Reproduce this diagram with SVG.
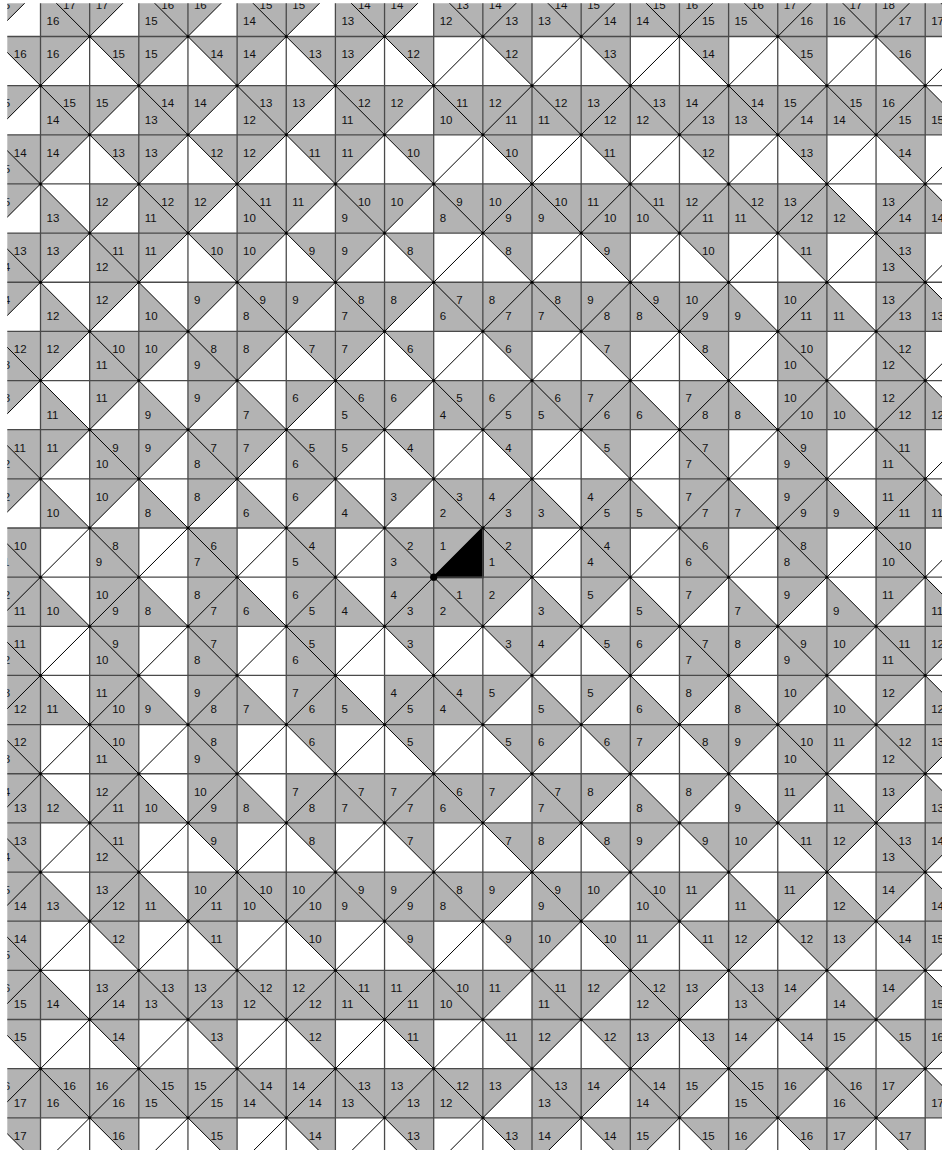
<svg xmlns="http://www.w3.org/2000/svg" width="942" height="1150" viewBox="0 0 942 1150">
<style>
.shade{fill:#b3b3b3}
.grid{fill:none;stroke:#4a4a4a;stroke-width:1.3;vector-effect:non-scaling-stroke}
.diag{fill:none;stroke:#000;stroke-width:1;vector-effect:non-scaling-stroke}
.lbl{font-family:"Liberation Sans",Arial,Helvetica,sans-serif;font-size:11.5px;fill:#111}
</style>
<defs>
<clipPath id="view"><rect x="7.3" y="3.3" width="940" height="1150"/></clipPath>
<pattern id="dots" patternUnits="userSpaceOnUse" x="15.925" y="11.925" width="98.3" height="98.3">
<circle cx="73.725" cy="24.575" r="1.5" fill="#000"/><circle cx="24.575" cy="73.725" r="1.5" fill="#000"/>
</pattern>
</defs>
<rect width="942" height="1150" fill="#fff"/>
<g clip-path="url(#view)">
<g id="tiles" transform="translate(40.5 36.5) scale(49.15)">
<path class="shade" d="M-1 -1h1l-1 1zM0 -1h1v1h-1zM1 -1h1l-1 1zM2 -1h1v1h-1zM3 -1h1l-1 1zM4 -1h1v1h-1zM5 -1h1l-1 1zM6 -1h1v1h-1zM7 -1h1l-1 1zM8 -1h11v1h-11z
M-1 0h1v1zM0 0h1l-1 1zM1 0h1v1zM2 0h1l-1 1zM3 0h1v1zM4 0h1l-1 1zM5 0h1v1zM6 0h1l-1 1zM7 0h1v1zM9 0h1v1zM11 0h1v1zM13 0h1v1zM15 0h1v1zM17 0h1v1z
M-1 1h1l-1 1zM0 1h1v1h-1zM1 1h1l-1 1zM2 1h1v1h-1zM3 1h1l-1 1zM4 1h1v1h-1zM5 1h1l-1 1zM6 1h1v1h-1zM7 1h1l-1 1zM8 1h10v1h-10zM18 1v1h1z
M-1 2h1v1h-1zM0 2h1l-1 1zM1 2h1v1zM2 2h1l-1 1zM3 2h1v1zM4 2h1l-1 1zM5 2h1v1zM6 2h1l-1 1zM7 2h1v1zM9 2h1v1zM11 2h1v1zM13 2h1v1zM15 2h1v1zM17 2h1v1z
M-1 3h1l-1 1zM0 3v1h1zM1 3h1l-1 1zM2 3h1v1h-1zM3 3h1l-1 1zM4 3h1v1h-1zM5 3h1l-1 1zM6 3h1v1h-1zM7 3h1l-1 1zM8 3h8v1h-8zM16 3v1h1zM17 3h1v1h-1zM18 3v1h1z
M-1 4h1v1h-1zM0 4h1l-1 1zM1 4h1v1h-1zM2 4h1l-1 1zM3 4h1v1zM4 4h1l-1 1zM5 4h1v1zM6 4h1l-1 1zM7 4h1v1zM9 4h1v1zM11 4h1v1zM13 4h1v1zM15 4h1v1zM17 4h1v1h-1z
M-1 5h1l-1 1zM0 5v1h1zM1 5h1l-1 1zM2 5v1h1zM3 5h1l-1 1zM4 5h1v1h-1zM5 5h1l-1 1zM6 5h1v1h-1zM7 5h1l-1 1zM8 5h6v1h-6zM14 5v1h1zM15 5h1v1h-1zM16 5v1h1zM17 5h1v1h-1zM18 5v1h1z
M-1 6h1v1h-1zM0 6h1l-1 1zM1 6h1v1h-1zM2 6h1l-1 1zM3 6h1v1h-1zM4 6h1l-1 1zM5 6h1v1zM6 6h1l-1 1zM7 6h1v1zM9 6h1v1zM11 6h1v1zM13 6h1v1zM15 6h1v1h-1zM17 6h1v1h-1z
M-1 7h1l-1 1zM0 7v1h1zM1 7h1l-1 1zM2 7v1h1zM3 7h1l-1 1zM4 7v1h1zM5 7h1l-1 1zM6 7h1v1h-1zM7 7h1l-1 1zM8 7h4v1h-4zM12 7v1h1zM13 7h1v1h-1zM14 7v1h1zM15 7h1v1h-1zM16 7v1h1zM17 7h1v1h-1zM18 7v1h1z
M-1 8h1v1h-1zM0 8h1l-1 1zM1 8h1v1h-1zM2 8h1l-1 1zM3 8h1v1h-1zM4 8h1l-1 1zM5 8h1v1h-1zM6 8h1l-1 1zM7 8h1v1zM9 8h1v1zM11 8h1v1zM13 8h1v1h-1zM15 8h1v1h-1zM17 8h1v1h-1z
M-1 9h1l-1 1zM0 9v1h1zM1 9h1l-1 1zM2 9v1h1zM3 9h1l-1 1zM4 9v1h1zM5 9h1l-1 1zM6 9v1h1zM7 9h1l-1 1zM8 9h2v1h-2zM10 9v1h1zM11 9h1v1h-1zM12 9v1h1zM13 9h1v1h-1zM14 9v1h1zM15 9h1v1h-1zM16 9v1h1zM17 9h1v1h-1zM18 9v1h1z
M-1 10h1v1h-1zM1 10h1v1h-1zM3 10h1v1h-1zM5 10h1v1h-1zM7 10h1v1h-1zM8 10h1l-1 1zM9 10h1v1h-1zM11 10h1v1h-1zM13 10h1v1h-1zM15 10h1v1h-1zM17 10h1v1h-1z
M-1 11h1v1h-1zM0 11v1h1zM1 11h1v1h-1zM2 11v1h1zM3 11h1v1h-1zM4 11v1h1zM5 11h1v1h-1zM6 11v1h1zM7 11h2v1h-2zM9 11h1l-1 1zM10 11v1h1zM11 11h1l-1 1zM12 11v1h1zM13 11h1l-1 1zM14 11v1h1zM15 11h1l-1 1zM16 11v1h1zM17 11h1l-1 1zM18 11v1h1z
M-1 12h1v1h-1zM1 12h1v1h-1zM3 12h1v1h-1zM5 12h1v1h-1zM7 12h1v1zM9 12h1v1zM10 12h1l-1 1zM11 12h1v1zM12 12h1l-1 1zM13 12h1v1h-1zM14 12h1l-1 1zM15 12h1v1h-1zM16 12h1l-1 1zM17 12h1v1h-1zM18 12h1l-1 1z
M-1 13h1v1h-1zM0 13v1h1zM1 13h1v1h-1zM2 13v1h1zM3 13h1v1h-1zM4 13v1h1zM5 13h1v1h-1zM6 13v1h1zM7 13h2v1h-2zM9 13h1l-1 1zM10 13v1h1zM11 13h1l-1 1zM12 13v1h1zM13 13h1l-1 1zM14 13v1h1zM15 13h1l-1 1zM16 13v1h1zM17 13h1l-1 1zM18 13v1h1z
M-1 14h1v1h-1zM1 14h1v1h-1zM3 14h1v1h-1zM5 14h1v1zM7 14h1v1zM9 14h1v1zM10 14h1l-1 1zM11 14h1v1zM12 14h1l-1 1zM13 14h1v1zM14 14h1l-1 1zM15 14h1v1h-1zM16 14h1l-1 1zM17 14h1v1h-1zM18 14h1l-1 1z
M-1 15h1v1h-1zM0 15v1h1zM1 15h1v1h-1zM2 15v1h1zM3 15h1v1h-1zM4 15v1h1zM5 15h4v1h-4zM9 15h1l-1 1zM10 15h1v1h-1zM11 15h1l-1 1zM12 15v1h1zM13 15h1l-1 1zM14 15v1h1zM15 15h1l-1 1zM16 15v1h1zM17 15h1l-1 1zM18 15v1h1z
M-1 16h1v1h-1zM1 16h1v1h-1zM3 16h1v1zM5 16h1v1zM7 16h1v1zM9 16h1v1zM10 16h1l-1 1zM11 16h1v1zM12 16h1l-1 1zM13 16h1v1zM14 16h1l-1 1zM15 16h1v1zM16 16h1l-1 1zM17 16h1v1h-1zM18 16h1l-1 1z
M-1 17h1v1h-1zM0 17v1h1zM1 17h1v1h-1zM2 17v1h1zM3 17h6v1h-6zM9 17h1l-1 1zM10 17h1v1h-1zM11 17h1l-1 1zM12 17h1v1h-1zM13 17h1l-1 1zM14 17v1h1zM15 17h1l-1 1zM16 17v1h1zM17 17h1l-1 1zM18 17v1h1z
M-1 18h1v1h-1zM1 18h1v1zM3 18h1v1zM5 18h1v1zM7 18h1v1zM9 18h1v1zM10 18h1l-1 1zM11 18h1v1zM12 18h1l-1 1zM13 18h1v1zM14 18h1l-1 1zM15 18h1v1zM16 18h1l-1 1zM17 18h1v1zM18 18h1l-1 1z
M-1 19h1v1h-1zM0 19v1h1zM1 19h8v1h-8zM9 19h1l-1 1zM10 19h1v1h-1zM11 19h1l-1 1zM12 19h1v1h-1zM13 19h1l-1 1zM14 19h1v1h-1zM15 19h1l-1 1zM16 19v1h1zM17 19h1l-1 1zM18 19v1h1z
M-1 20h1v1zM1 20h1v1zM3 20h1v1zM5 20h1v1zM7 20h1v1zM9 20h1v1zM10 20h1l-1 1zM11 20h1v1zM12 20h1l-1 1zM13 20h1v1zM14 20h1l-1 1zM15 20h1v1zM16 20h1l-1 1zM17 20h1v1zM18 20h1l-1 1z
M-1 21h10v1h-10zM9 21h1l-1 1zM10 21h1v1h-1zM11 21h1l-1 1zM12 21h1v1h-1zM13 21h1l-1 1zM14 21h1v1h-1zM15 21h1l-1 1zM16 21h1v1h-1zM17 21h1l-1 1zM18 21v1h1z
M-1 22h1v1zM1 22h1v1zM3 22h1v1zM5 22h1v1zM7 22h1v1zM9 22h1v1zM10 22h1l-1 1zM11 22h1v1zM12 22h1l-1 1zM13 22h1v1zM14 22h1l-1 1zM15 22h1v1zM16 22h1l-1 1zM17 22h1v1z"/>
<path id="start" d="M9 10v1h-1z" fill="#000" stroke="#000" stroke-width="2" style="vector-effect:non-scaling-stroke"/>
<path id="gridlines" class="grid" d="M-1 -1V24M0 -1V24M1 -1V24M2 -1V24M3 -1V24M4 -1V24M5 -1V24M6 -1V24M7 -1V24M8 -1V24M9 -1V24M10 -1V24M11 -1V24M12 -1V24M13 -1V24M14 -1V24M15 -1V24M16 -1V24M17 -1V24M18 -1V24M19 -1V24
M-1 -1H20M-1 0H20M-1 1H20M-1 2H20M-1 3H20M-1 4H20M-1 5H20M-1 6H20M-1 7H20M-1 8H20M-1 9H20M-1 10H20M-1 11H20M-1 12H20M-1 13H20M-1 14H20M-1 15H20M-1 16H20M-1 17H20M-1 18H20M-1 19H20M-1 20H20M-1 21H20M-1 22H20M-1 23H20"/>
<path id="diagonals" class="diag" d="M1 -2L-2 1M3 -2L-2 3M5 -2L-2 5M7 -2L-2 7M9 -2L-2 9M11 -2L-2 11M13 -2L-2 13M15 -2L-2 15M17 -2L-2 17M19 -2L-2 19M21 -2L-2 21M23 -2L-2 23M25 -2L-2 25M27 -2L-2 27M29 -2L-2 29M31 -2L-2 31M33 -2L-2 33M35 -2L-2 35M37 -2L-2 37M39 -2L-2 39M41 -2L-2 41M43 -2L-2 43
M-25 -2L3 26M-23 -2L5 26M-21 -2L7 26M-19 -2L9 26M-17 -2L11 26M-15 -2L13 26M-13 -2L15 26M-11 -2L17 26M-9 -2L19 26M-7 -2L21 26M-5 -2L23 26M-3 -2L25 26M-1 -2L27 26M1 -2L29 26M3 -2L31 26M5 -2L33 26M7 -2L35 26M9 -2L37 26M11 -2L39 26M13 -2L41 26M15 -2L43 26M17 -2L45 26"/>
</g>
<rect id="vertex-dots" x="0" y="0" width="942" height="1150" fill="url(#dots)"/>
<circle id="start-dot" cx="433.7" cy="577.15" r="3.6" fill="#000"/>
<g id="labels" class="lbl">
<text y="9.15"><tspan x="-2.65">16</tspan><tspan x="63">17</tspan><tspan x="95.65">17</tspan><tspan x="161.3">16</tspan><tspan x="193.95">16</tspan><tspan x="259.6">15</tspan><tspan x="292.25">15</tspan><tspan x="357.9">14</tspan><tspan x="390.55">14</tspan><tspan x="456.2">13</tspan><tspan x="488.85">14</tspan><tspan x="554.5">14</tspan><tspan x="587.15">15</tspan><tspan x="652.8">15</tspan><tspan x="685.45">16</tspan><tspan x="751.1">16</tspan><tspan x="783.75">17</tspan><tspan x="849.4">17</tspan><tspan x="882.05">18</tspan></text>
<text y="25.35"><tspan x="46.5">16</tspan><tspan x="144.8">15</tspan><tspan x="243.1">14</tspan><tspan x="341.4">13</tspan><tspan x="439.7">12</tspan><tspan x="505.35">13</tspan><tspan x="538">13</tspan><tspan x="603.65">14</tspan><tspan x="636.3">14</tspan><tspan x="701.95">15</tspan><tspan x="734.6">15</tspan><tspan x="800.25">16</tspan><tspan x="832.9">16</tspan><tspan x="898.55">17</tspan><tspan x="931.2">17</tspan></text>
<text y="58.3"><tspan x="13.85">16</tspan><tspan x="46.5">16</tspan><tspan x="112.15">15</tspan><tspan x="144.8">15</tspan><tspan x="210.45">14</tspan><tspan x="243.1">14</tspan><tspan x="308.75">13</tspan><tspan x="341.4">13</tspan><tspan x="407.05">12</tspan><tspan x="505.35">12</tspan><tspan x="603.65">13</tspan><tspan x="701.95">14</tspan><tspan x="800.25">15</tspan><tspan x="898.55">16</tspan></text>
<text y="107.45"><tspan x="-2.65">15</tspan><tspan x="63">15</tspan><tspan x="95.65">15</tspan><tspan x="161.3">14</tspan><tspan x="193.95">14</tspan><tspan x="259.6">13</tspan><tspan x="292.25">13</tspan><tspan x="357.9">12</tspan><tspan x="390.55">12</tspan><tspan x="456.2">11</tspan><tspan x="488.85">12</tspan><tspan x="554.5">12</tspan><tspan x="587.15">13</tspan><tspan x="652.8">13</tspan><tspan x="685.45">14</tspan><tspan x="751.1">14</tspan><tspan x="783.75">15</tspan><tspan x="849.4">15</tspan><tspan x="882.05">16</tspan></text>
<text y="123.65"><tspan x="46.5">14</tspan><tspan x="144.8">13</tspan><tspan x="243.1">12</tspan><tspan x="341.4">11</tspan><tspan x="439.7">10</tspan><tspan x="505.35">11</tspan><tspan x="538">11</tspan><tspan x="603.65">12</tspan><tspan x="636.3">12</tspan><tspan x="701.95">13</tspan><tspan x="734.6">13</tspan><tspan x="800.25">14</tspan><tspan x="832.9">14</tspan><tspan x="898.55">15</tspan><tspan x="931.2">15</tspan></text>
<text y="156.6"><tspan x="13.85">14</tspan><tspan x="46.5">14</tspan><tspan x="112.15">13</tspan><tspan x="144.8">13</tspan><tspan x="210.45">12</tspan><tspan x="243.1">12</tspan><tspan x="308.75">11</tspan><tspan x="341.4">11</tspan><tspan x="407.05">10</tspan><tspan x="505.35">10</tspan><tspan x="603.65">11</tspan><tspan x="701.95">12</tspan><tspan x="800.25">13</tspan><tspan x="898.55">14</tspan></text>
<text y="172.8"><tspan x="-2.65">15</tspan></text>
<text y="205.75"><tspan x="-2.65">15</tspan><tspan x="95.65">12</tspan><tspan x="161.3">12</tspan><tspan x="193.95">12</tspan><tspan x="259.6">11</tspan><tspan x="292.25">11</tspan><tspan x="357.9">10</tspan><tspan x="390.55">10</tspan><tspan x="456.2">9</tspan><tspan x="488.85">10</tspan><tspan x="554.5">10</tspan><tspan x="587.15">11</tspan><tspan x="652.8">11</tspan><tspan x="685.45">12</tspan><tspan x="751.1">12</tspan><tspan x="783.75">13</tspan><tspan x="882.05">13</tspan></text>
<text y="221.95"><tspan x="46.5">13</tspan><tspan x="144.8">11</tspan><tspan x="243.1">10</tspan><tspan x="341.4">9</tspan><tspan x="439.7">8</tspan><tspan x="505.35">9</tspan><tspan x="538">9</tspan><tspan x="603.65">10</tspan><tspan x="636.3">10</tspan><tspan x="701.95">11</tspan><tspan x="734.6">11</tspan><tspan x="800.25">12</tspan><tspan x="832.9">12</tspan><tspan x="898.55">14</tspan><tspan x="931.2">14</tspan></text>
<text y="254.9"><tspan x="13.85">13</tspan><tspan x="46.5">13</tspan><tspan x="112.15">11</tspan><tspan x="144.8">11</tspan><tspan x="210.45">10</tspan><tspan x="243.1">10</tspan><tspan x="308.75">9</tspan><tspan x="341.4">9</tspan><tspan x="407.05">8</tspan><tspan x="505.35">8</tspan><tspan x="603.65">9</tspan><tspan x="701.95">10</tspan><tspan x="800.25">11</tspan><tspan x="898.55">13</tspan></text>
<text y="271.1"><tspan x="-2.65">14</tspan><tspan x="95.65">12</tspan><tspan x="882.05">13</tspan></text>
<text y="304.05"><tspan x="-2.65">14</tspan><tspan x="95.65">12</tspan><tspan x="193.95">9</tspan><tspan x="259.6">9</tspan><tspan x="292.25">9</tspan><tspan x="357.9">8</tspan><tspan x="390.55">8</tspan><tspan x="456.2">7</tspan><tspan x="488.85">8</tspan><tspan x="554.5">8</tspan><tspan x="587.15">9</tspan><tspan x="652.8">9</tspan><tspan x="685.45">10</tspan><tspan x="783.75">10</tspan><tspan x="882.05">13</tspan></text>
<text y="320.25"><tspan x="46.5">12</tspan><tspan x="144.8">10</tspan><tspan x="243.1">8</tspan><tspan x="341.4">7</tspan><tspan x="439.7">6</tspan><tspan x="505.35">7</tspan><tspan x="538">7</tspan><tspan x="603.65">8</tspan><tspan x="636.3">8</tspan><tspan x="701.95">9</tspan><tspan x="734.6">9</tspan><tspan x="800.25">11</tspan><tspan x="832.9">11</tspan><tspan x="898.55">13</tspan><tspan x="931.2">13</tspan></text>
<text y="353.2"><tspan x="13.85">12</tspan><tspan x="46.5">12</tspan><tspan x="112.15">10</tspan><tspan x="144.8">10</tspan><tspan x="210.45">8</tspan><tspan x="243.1">8</tspan><tspan x="308.75">7</tspan><tspan x="341.4">7</tspan><tspan x="407.05">6</tspan><tspan x="505.35">6</tspan><tspan x="603.65">7</tspan><tspan x="701.95">8</tspan><tspan x="800.25">10</tspan><tspan x="898.55">12</tspan></text>
<text y="369.4"><tspan x="-2.65">13</tspan><tspan x="95.65">11</tspan><tspan x="193.95">9</tspan><tspan x="783.75">10</tspan><tspan x="882.05">12</tspan></text>
<text y="402.35"><tspan x="-2.65">13</tspan><tspan x="95.65">11</tspan><tspan x="193.95">9</tspan><tspan x="292.25">6</tspan><tspan x="357.9">6</tspan><tspan x="390.55">6</tspan><tspan x="456.2">5</tspan><tspan x="488.85">6</tspan><tspan x="554.5">6</tspan><tspan x="587.15">7</tspan><tspan x="685.45">7</tspan><tspan x="783.75">10</tspan><tspan x="882.05">12</tspan></text>
<text y="418.55"><tspan x="46.5">11</tspan><tspan x="144.8">9</tspan><tspan x="243.1">7</tspan><tspan x="341.4">5</tspan><tspan x="439.7">4</tspan><tspan x="505.35">5</tspan><tspan x="538">5</tspan><tspan x="603.65">6</tspan><tspan x="636.3">6</tspan><tspan x="701.95">8</tspan><tspan x="734.6">8</tspan><tspan x="800.25">10</tspan><tspan x="832.9">10</tspan><tspan x="898.55">12</tspan><tspan x="931.2">12</tspan></text>
<text y="451.5"><tspan x="13.85">11</tspan><tspan x="46.5">11</tspan><tspan x="112.15">9</tspan><tspan x="144.8">9</tspan><tspan x="210.45">7</tspan><tspan x="243.1">7</tspan><tspan x="308.75">5</tspan><tspan x="341.4">5</tspan><tspan x="407.05">4</tspan><tspan x="505.35">4</tspan><tspan x="603.65">5</tspan><tspan x="701.95">7</tspan><tspan x="800.25">9</tspan><tspan x="898.55">11</tspan></text>
<text y="467.7"><tspan x="-2.65">12</tspan><tspan x="95.65">10</tspan><tspan x="193.95">8</tspan><tspan x="292.25">6</tspan><tspan x="685.45">7</tspan><tspan x="783.75">9</tspan><tspan x="882.05">11</tspan></text>
<text y="500.65"><tspan x="-2.65">12</tspan><tspan x="95.65">10</tspan><tspan x="193.95">8</tspan><tspan x="292.25">6</tspan><tspan x="390.55">3</tspan><tspan x="456.2">3</tspan><tspan x="488.85">4</tspan><tspan x="587.15">4</tspan><tspan x="685.45">7</tspan><tspan x="783.75">9</tspan><tspan x="882.05">11</tspan></text>
<text y="516.85"><tspan x="46.5">10</tspan><tspan x="144.8">8</tspan><tspan x="243.1">6</tspan><tspan x="341.4">4</tspan><tspan x="439.7">2</tspan><tspan x="505.35">3</tspan><tspan x="538">3</tspan><tspan x="603.65">5</tspan><tspan x="636.3">5</tspan><tspan x="701.95">7</tspan><tspan x="734.6">7</tspan><tspan x="800.25">9</tspan><tspan x="832.9">9</tspan><tspan x="898.55">11</tspan><tspan x="931.2">11</tspan></text>
<text y="549.8"><tspan x="13.85">10</tspan><tspan x="112.15">8</tspan><tspan x="210.45">6</tspan><tspan x="308.75">4</tspan><tspan x="407.05">2</tspan><tspan x="439.7">1</tspan><tspan x="505.35">2</tspan><tspan x="603.65">4</tspan><tspan x="701.95">6</tspan><tspan x="800.25">8</tspan><tspan x="898.55">10</tspan></text>
<text y="566"><tspan x="-2.65">11</tspan><tspan x="95.65">9</tspan><tspan x="193.95">7</tspan><tspan x="292.25">5</tspan><tspan x="390.55">3</tspan><tspan x="488.85">1</tspan><tspan x="587.15">4</tspan><tspan x="685.45">6</tspan><tspan x="783.75">8</tspan><tspan x="882.05">10</tspan></text>
<text y="598.95"><tspan x="-2.65">12</tspan><tspan x="95.65">10</tspan><tspan x="193.95">8</tspan><tspan x="292.25">6</tspan><tspan x="390.55">4</tspan><tspan x="456.2">1</tspan><tspan x="488.85">2</tspan><tspan x="587.15">5</tspan><tspan x="685.45">7</tspan><tspan x="783.75">9</tspan><tspan x="882.05">11</tspan></text>
<text y="615.15"><tspan x="13.85">11</tspan><tspan x="46.5">10</tspan><tspan x="112.15">9</tspan><tspan x="144.8">8</tspan><tspan x="210.45">7</tspan><tspan x="243.1">6</tspan><tspan x="308.75">5</tspan><tspan x="341.4">4</tspan><tspan x="407.05">3</tspan><tspan x="439.7">2</tspan><tspan x="538">3</tspan><tspan x="636.3">5</tspan><tspan x="734.6">7</tspan><tspan x="832.9">9</tspan><tspan x="931.2">11</tspan></text>
<text y="648.1"><tspan x="13.85">11</tspan><tspan x="112.15">9</tspan><tspan x="210.45">7</tspan><tspan x="308.75">5</tspan><tspan x="407.05">3</tspan><tspan x="505.35">3</tspan><tspan x="538">4</tspan><tspan x="603.65">5</tspan><tspan x="636.3">6</tspan><tspan x="701.95">7</tspan><tspan x="734.6">8</tspan><tspan x="800.25">9</tspan><tspan x="832.9">10</tspan><tspan x="898.55">11</tspan><tspan x="931.2">12</tspan></text>
<text y="664.3"><tspan x="-2.65">12</tspan><tspan x="95.65">10</tspan><tspan x="193.95">8</tspan><tspan x="292.25">6</tspan><tspan x="685.45">7</tspan><tspan x="783.75">9</tspan><tspan x="882.05">11</tspan></text>
<text y="697.25"><tspan x="-2.65">13</tspan><tspan x="95.65">11</tspan><tspan x="193.95">9</tspan><tspan x="292.25">7</tspan><tspan x="390.55">4</tspan><tspan x="456.2">4</tspan><tspan x="488.85">5</tspan><tspan x="587.15">5</tspan><tspan x="685.45">8</tspan><tspan x="783.75">10</tspan><tspan x="882.05">12</tspan></text>
<text y="713.45"><tspan x="13.85">12</tspan><tspan x="46.5">11</tspan><tspan x="112.15">10</tspan><tspan x="144.8">9</tspan><tspan x="210.45">8</tspan><tspan x="243.1">7</tspan><tspan x="308.75">6</tspan><tspan x="341.4">5</tspan><tspan x="407.05">5</tspan><tspan x="439.7">4</tspan><tspan x="538">5</tspan><tspan x="636.3">6</tspan><tspan x="734.6">8</tspan><tspan x="832.9">10</tspan><tspan x="931.2">12</tspan></text>
<text y="746.4"><tspan x="13.85">12</tspan><tspan x="112.15">10</tspan><tspan x="210.45">8</tspan><tspan x="308.75">6</tspan><tspan x="407.05">5</tspan><tspan x="505.35">5</tspan><tspan x="538">6</tspan><tspan x="603.65">6</tspan><tspan x="636.3">7</tspan><tspan x="701.95">8</tspan><tspan x="734.6">9</tspan><tspan x="800.25">10</tspan><tspan x="832.9">11</tspan><tspan x="898.55">12</tspan><tspan x="931.2">13</tspan></text>
<text y="762.6"><tspan x="-2.65">13</tspan><tspan x="95.65">11</tspan><tspan x="193.95">9</tspan><tspan x="783.75">10</tspan><tspan x="882.05">12</tspan></text>
<text y="795.55"><tspan x="-2.65">14</tspan><tspan x="95.65">12</tspan><tspan x="193.95">10</tspan><tspan x="292.25">7</tspan><tspan x="357.9">7</tspan><tspan x="390.55">7</tspan><tspan x="456.2">6</tspan><tspan x="488.85">7</tspan><tspan x="554.5">7</tspan><tspan x="587.15">8</tspan><tspan x="685.45">8</tspan><tspan x="783.75">11</tspan><tspan x="882.05">13</tspan></text>
<text y="811.75"><tspan x="13.85">13</tspan><tspan x="46.5">12</tspan><tspan x="112.15">11</tspan><tspan x="144.8">10</tspan><tspan x="210.45">9</tspan><tspan x="243.1">8</tspan><tspan x="308.75">8</tspan><tspan x="341.4">7</tspan><tspan x="407.05">7</tspan><tspan x="439.7">6</tspan><tspan x="538">7</tspan><tspan x="636.3">8</tspan><tspan x="734.6">9</tspan><tspan x="832.9">11</tspan><tspan x="931.2">13</tspan></text>
<text y="844.7"><tspan x="13.85">13</tspan><tspan x="112.15">11</tspan><tspan x="210.45">9</tspan><tspan x="308.75">8</tspan><tspan x="407.05">7</tspan><tspan x="505.35">7</tspan><tspan x="538">8</tspan><tspan x="603.65">8</tspan><tspan x="636.3">9</tspan><tspan x="701.95">9</tspan><tspan x="734.6">10</tspan><tspan x="800.25">11</tspan><tspan x="832.9">12</tspan><tspan x="898.55">13</tspan><tspan x="931.2">14</tspan></text>
<text y="860.9"><tspan x="-2.65">14</tspan><tspan x="95.65">12</tspan><tspan x="882.05">13</tspan></text>
<text y="893.85"><tspan x="-2.65">15</tspan><tspan x="95.65">13</tspan><tspan x="193.95">10</tspan><tspan x="259.6">10</tspan><tspan x="292.25">10</tspan><tspan x="357.9">9</tspan><tspan x="390.55">9</tspan><tspan x="456.2">8</tspan><tspan x="488.85">9</tspan><tspan x="554.5">9</tspan><tspan x="587.15">10</tspan><tspan x="652.8">10</tspan><tspan x="685.45">11</tspan><tspan x="783.75">11</tspan><tspan x="882.05">14</tspan></text>
<text y="910.05"><tspan x="13.85">14</tspan><tspan x="46.5">13</tspan><tspan x="112.15">12</tspan><tspan x="144.8">11</tspan><tspan x="210.45">11</tspan><tspan x="243.1">10</tspan><tspan x="308.75">10</tspan><tspan x="341.4">9</tspan><tspan x="407.05">9</tspan><tspan x="439.7">8</tspan><tspan x="538">9</tspan><tspan x="636.3">10</tspan><tspan x="734.6">11</tspan><tspan x="832.9">12</tspan><tspan x="931.2">14</tspan></text>
<text y="943"><tspan x="13.85">14</tspan><tspan x="112.15">12</tspan><tspan x="210.45">11</tspan><tspan x="308.75">10</tspan><tspan x="407.05">9</tspan><tspan x="505.35">9</tspan><tspan x="538">10</tspan><tspan x="603.65">10</tspan><tspan x="636.3">11</tspan><tspan x="701.95">11</tspan><tspan x="734.6">12</tspan><tspan x="800.25">12</tspan><tspan x="832.9">13</tspan><tspan x="898.55">14</tspan><tspan x="931.2">15</tspan></text>
<text y="959.2"><tspan x="-2.65">15</tspan></text>
<text y="992.15"><tspan x="-2.65">16</tspan><tspan x="95.65">13</tspan><tspan x="161.3">13</tspan><tspan x="193.95">13</tspan><tspan x="259.6">12</tspan><tspan x="292.25">12</tspan><tspan x="357.9">11</tspan><tspan x="390.55">11</tspan><tspan x="456.2">10</tspan><tspan x="488.85">11</tspan><tspan x="554.5">11</tspan><tspan x="587.15">12</tspan><tspan x="652.8">12</tspan><tspan x="685.45">13</tspan><tspan x="751.1">13</tspan><tspan x="783.75">14</tspan><tspan x="882.05">14</tspan></text>
<text y="1008.35"><tspan x="13.85">15</tspan><tspan x="46.5">14</tspan><tspan x="112.15">14</tspan><tspan x="144.8">13</tspan><tspan x="210.45">13</tspan><tspan x="243.1">12</tspan><tspan x="308.75">12</tspan><tspan x="341.4">11</tspan><tspan x="407.05">11</tspan><tspan x="439.7">10</tspan><tspan x="538">11</tspan><tspan x="636.3">12</tspan><tspan x="734.6">13</tspan><tspan x="832.9">14</tspan><tspan x="931.2">15</tspan></text>
<text y="1041.3"><tspan x="13.85">15</tspan><tspan x="112.15">14</tspan><tspan x="210.45">13</tspan><tspan x="308.75">12</tspan><tspan x="407.05">11</tspan><tspan x="505.35">11</tspan><tspan x="538">12</tspan><tspan x="603.65">12</tspan><tspan x="636.3">13</tspan><tspan x="701.95">13</tspan><tspan x="734.6">14</tspan><tspan x="800.25">14</tspan><tspan x="832.9">15</tspan><tspan x="898.55">15</tspan><tspan x="931.2">16</tspan></text>
<text y="1090.45"><tspan x="-2.65">16</tspan><tspan x="63">16</tspan><tspan x="95.65">16</tspan><tspan x="161.3">15</tspan><tspan x="193.95">15</tspan><tspan x="259.6">14</tspan><tspan x="292.25">14</tspan><tspan x="357.9">13</tspan><tspan x="390.55">13</tspan><tspan x="456.2">12</tspan><tspan x="488.85">13</tspan><tspan x="554.5">13</tspan><tspan x="587.15">14</tspan><tspan x="652.8">14</tspan><tspan x="685.45">15</tspan><tspan x="751.1">15</tspan><tspan x="783.75">16</tspan><tspan x="849.4">16</tspan><tspan x="882.05">17</tspan></text>
<text y="1106.65"><tspan x="13.85">17</tspan><tspan x="46.5">16</tspan><tspan x="112.15">16</tspan><tspan x="144.8">15</tspan><tspan x="210.45">15</tspan><tspan x="243.1">14</tspan><tspan x="308.75">14</tspan><tspan x="341.4">13</tspan><tspan x="407.05">13</tspan><tspan x="439.7">12</tspan><tspan x="538">13</tspan><tspan x="636.3">14</tspan><tspan x="734.6">15</tspan><tspan x="832.9">16</tspan><tspan x="931.2">17</tspan></text>
<text y="1139.6"><tspan x="13.85">17</tspan><tspan x="112.15">16</tspan><tspan x="210.45">15</tspan><tspan x="308.75">14</tspan><tspan x="407.05">13</tspan><tspan x="505.35">13</tspan><tspan x="538">14</tspan><tspan x="603.65">14</tspan><tspan x="636.3">15</tspan><tspan x="701.95">15</tspan><tspan x="734.6">16</tspan><tspan x="800.25">16</tspan><tspan x="832.9">17</tspan><tspan x="898.55">17</tspan></text>
</g>
</g>
</svg>
